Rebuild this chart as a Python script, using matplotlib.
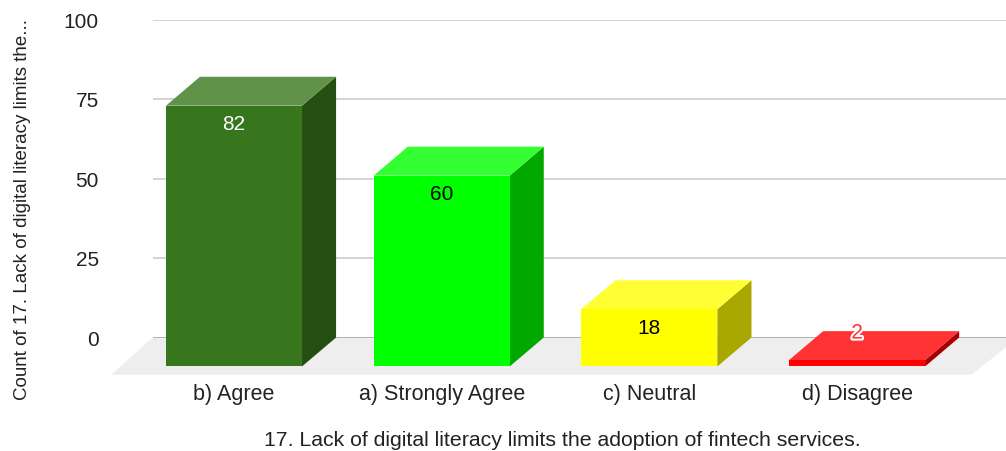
import matplotlib
matplotlib.use('Agg')
import matplotlib.pyplot as plt
import matplotlib.patheffects as pe
from matplotlib.patches import Polygon

plt.rcParams['font.family'] = ['Liberation Sans', 'DejaVu Sans']

categories = ['b) Agree', 'a) Strongly Agree', 'c) Neutral', 'd) Disagree']
counts = [82, 60, 18, 2]
y_ticks = [0, 25, 50, 75, 100]
front_colors = ['#38761d', '#00ff00', '#ffff00', '#ff0000']
top_colors = ['#60924a', '#33ff33', '#ffff33', '#ff3333']
side_colors = ['#254e13', '#00a800', '#a8a800', '#a80000']
label_colors = ['white', 'black', 'black', 'white']

W, H = 1006, 452
bar_width = 0.655
depth_x = 0.164
depth_y = 9.1

fig = plt.figure(figsize=(W / 100, H / 100), dpi=100)
ax = fig.add_axes([153 / W, 1 - 338.5 / H, (W - 153) / W, 318 / H])
ax.set_xlim(-0.39, 3.717)
ax.set_ylim(0, 100)
for s in ax.spines.values():
    s.set_visible(False)
ax.tick_params(length=0)


def poly(pts, color, z):
    ax.add_patch(Polygon(pts, closed=True, fc=color, ec='none', zorder=z, clip_on=False))


# back wall gridlines, then the floor
for t in y_ticks:
    ax.axhline(t, color='#5f5f5f' if t == 0 else '#cccccc', lw=1.2, zorder=1)
poly([(-0.39, 0), (3.717, 0), (3.717, -3.1), (3.55, -11.7), (-0.592, -11.7)], '#eeeeee', 2)

# each column is a front face pushed forward from the wall, plus side and top
for i, v in enumerate(counts):
    x0 = i - bar_width / 2
    x1 = i + bar_width / 2
    b = -depth_y
    t = v - depth_y
    poly([(x1, b), (x1 + depth_x, 0), (x1 + depth_x, v), (x1, t)], side_colors[i], 3)
    poly([(x0, t), (x0 + depth_x, v), (x1 + depth_x, v), (x1, t)], top_colors[i], 3)
    poly([(x0, b), (x1, b), (x1, t), (x0, t)], front_colors[i], 4)
    lab = ax.text(i, t - 5.6, str(v), ha='center', va='center', fontsize=15,
                  color=label_colors[i], zorder=6)
    if v < 5:
        lab.set_color('#ff3333')
        lab.set_position((i, v - 0.6))
        lab.set_path_effects([pe.withStroke(linewidth=3, foreground='white')])

ax.set_yticks(y_ticks)
ax.set_yticklabels([str(t) for t in y_ticks], fontsize=15, color='#222222')
ax.tick_params(axis='y', pad=39)
ax.set_xticks(range(len(categories)))
ax.set_xticklabels(categories, fontsize=15.5, color='#222222')
ax.tick_params(axis='x', pad=33)

fig.text(562 / W, 1 - 441 / H, '17. Lack of digital literacy limits the adoption of fintech services.',
         ha='center', va='center', fontsize=15.3, color='#222222')
fig.text(23 / W, 1 - 209 / H, 'Count of 17. Lack of digital literacy limits the...',
         rotation=90, ha='center', va='center', fontsize=13.5, color='#222222')

fig.savefig('out.png', dpi=100)
plt.close(fig)
